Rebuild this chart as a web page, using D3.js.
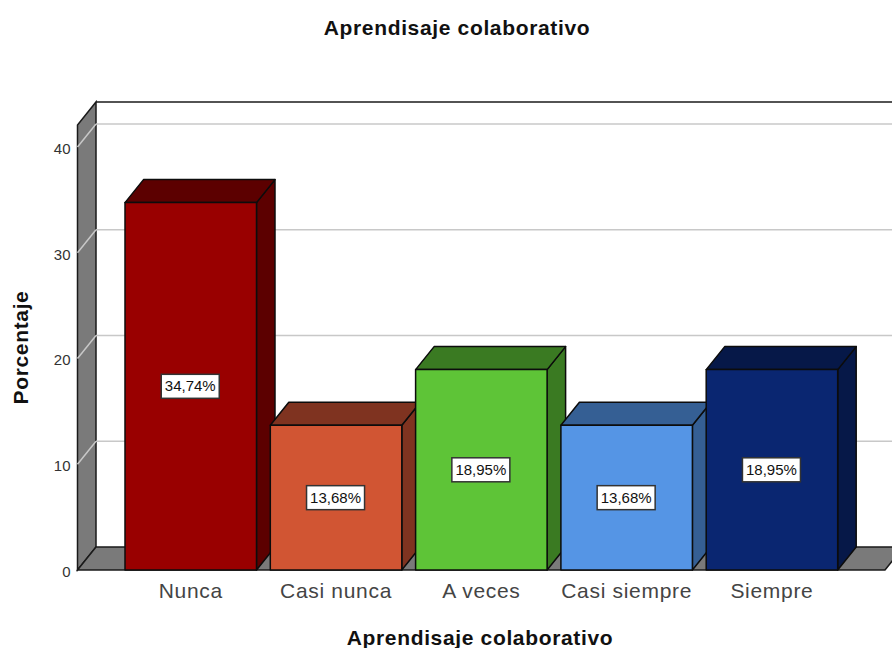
<!DOCTYPE html>
<html>
<head>
<meta charset="utf-8">
<title>Aprendisaje colaborativo</title>
<style>
html, body { margin: 0; padding: 0; background: #fff; }
svg { display: block; }
text { font-family: "Liberation Sans", Arial, sans-serif; }
.title { font-size: 21px; font-weight: bold; fill: #111; letter-spacing: 0.65px; }
.x-axis .tick text { font-size: 21px; fill: #444; letter-spacing: 0.7px; }
.y-axis .tick text { font-size: 15px; fill: #333; }
.val { font-size: 15px; fill: #111; }
</style>
</head>
<body>
<script src="https://cdn.jsdelivr.net/npm/d3@7"></script>
<script>
var categories = ["Nunca", "Casi nunca", "A veces", "Casi siempre", "Siempre"];
var values = [34.74, 13.68, 18.95, 13.68, 18.95];
var valueLabels = ["34,74%", "13,68%", "18,95%", "13,68%", "18,95%"];
var frontColors = ["#990000", "#d15533", "#5ec437", "#5595e5", "#0a2671"];
var sideColors = ["#5c0000", "#7f3320", "#3a7a22", "#355f94", "#061848"];
var yTicks = [0, 10, 20, 30, 40];

var width = 892,
    height = 648;

// offset of the back plane from the front plane
var dx = 18.5,
    dy = -23;

var plotLeft = 77.5,
    plotRight = 885,
    plotBottom = 570,
    plotTop = 125;

var x = d3.scaleBand()
    .domain(categories)
    .range([118.1, 844.6])
    .paddingInner(0.095)
    .paddingOuter(0.0475);

var y = d3.scaleLinear()
    .domain([0, 42.08])
    .range([plotBottom, plotTop]);

var svg = d3.select("body").append("svg")
    .attr("width", width)
    .attr("height", height);

function poly(pts) {
  return "M" + pts.map(function(p) { return p.join(","); }).join("L") + "Z";
}

// left wall
svg.append("path")
    .attr("d", poly([[plotLeft, plotBottom], [plotLeft + dx, plotBottom + dy], [plotLeft + dx, plotTop + dy], [plotLeft, plotTop]]))
    .attr("fill", "#7a7a7a")
    .attr("stroke", "#1a1a1a")
    .attr("stroke-width", 1.5);

// floor
svg.append("path")
    .attr("d", poly([[plotLeft, plotBottom], [plotLeft + dx, plotBottom + dy], [plotRight + dx, plotBottom + dy], [plotRight, plotBottom]]))
    .attr("fill", "#7a7a7a")
    .attr("stroke", "#1a1a1a")
    .attr("stroke-width", 1.5);

// gridlines, on the side wall and on the back plane
var grid = svg.append("g")
    .attr("fill", "none")
    .attr("stroke", "#c8c8c8")
    .attr("stroke-width", 1.5);

grid.selectAll("path.wall")
    .data(yTicks.filter(function(d) { return d > 0; }))
    .enter().append("path")
    .attr("class", "wall")
    .attr("d", function(d) {
      return "M" + plotLeft + "," + y(d) + "L" + (plotLeft + dx) + "," + (y(d) + dy);
    });

grid.selectAll("path.back")
    .data(yTicks.filter(function(d) { return d > 0; }))
    .enter().append("path")
    .attr("class", "back")
    .attr("d", function(d) {
      return "M" + (plotLeft + dx) + "," + (y(d) + dy) + "L" + (plotRight + dx) + "," + (y(d) + dy);
    });

// top edge of the back plane
svg.append("path")
    .attr("d", "M" + (plotLeft + dx) + "," + (plotTop + dy) + "L" + (plotRight + dx) + "," + (plotTop + dy))
    .attr("stroke", "#1a1a1a")
    .attr("stroke-width", 1.5);

// bars
var bar = svg.selectAll(".bar")
    .data(categories)
    .enter().append("g")
    .attr("class", "bar")
    .attr("stroke", "#0c0c0c")
    .attr("stroke-width", 1.5)
    .attr("stroke-linejoin", "round");

bar.append("path")
    .attr("fill", function(d, i) { return sideColors[i]; })
    .attr("d", function(d, i) {
      var x1 = x(d) + x.bandwidth(), yt = y(values[i]);
      return poly([[x1, plotBottom], [x1 + dx, plotBottom + dy], [x1 + dx, yt + dy], [x1, yt]]);
    });

bar.append("path")
    .attr("fill", function(d, i) { return sideColors[i]; })
    .attr("d", function(d, i) {
      var x0 = x(d), x1 = x0 + x.bandwidth(), yt = y(values[i]);
      return poly([[x0, yt], [x0 + dx, yt + dy], [x1 + dx, yt + dy], [x1, yt]]);
    });

bar.append("rect")
    .attr("x", function(d) { return x(d); })
    .attr("y", function(d, i) { return y(values[i]); })
    .attr("width", x.bandwidth())
    .attr("height", function(d, i) { return plotBottom - y(values[i]); })
    .attr("fill", function(d, i) { return frontColors[i]; });

// value labels
var label = svg.selectAll(".val-box")
    .data(categories)
    .enter().append("g")
    .attr("class", "val-box")
    .attr("transform", function(d, i) {
      return "translate(" + (x(d) + x.bandwidth() / 2 - 0.5) + "," + y(values[i] / 2) + ")";
    });

label.append("rect")
    .attr("x", -29)
    .attr("y", -12)
    .attr("width", 58)
    .attr("height", 24)
    .attr("fill", "#fff")
    .attr("stroke", "#333")
    .attr("stroke-width", 1.5);

label.append("text")
    .attr("class", "val")
    .attr("text-anchor", "middle")
    .attr("dy", 5)
    .text(function(d, i) { return valueLabels[i]; });

// axes
var yAxis = svg.append("g")
    .attr("class", "y-axis")
    .attr("transform", "translate(" + plotLeft + ",1.5)")
    .call(d3.axisLeft(y).tickValues(yTicks).tickSize(0).tickPadding(7));
yAxis.select(".domain").remove();

var xAxis = svg.append("g")
    .attr("class", "x-axis")
    .attr("transform", "translate(0," + plotBottom + ")")
    .call(d3.axisBottom(x).tickSize(0).tickPadding(13));
xAxis.select(".domain").remove();

// titles
svg.append("text")
    .attr("class", "title")
    .attr("x", 457)
    .attr("y", 35)
    .attr("text-anchor", "middle")
    .text("Aprendisaje colaborativo");

svg.append("text")
    .attr("class", "title")
    .attr("x", 480)
    .attr("y", 645)
    .attr("text-anchor", "middle")
    .text("Aprendisaje colaborativo");

svg.append("text")
    .attr("class", "title")
    .attr("transform", "translate(28,347.5) rotate(-90)")
    .attr("text-anchor", "middle")
    .text("Porcentaje");
</script>
</body>
</html>
